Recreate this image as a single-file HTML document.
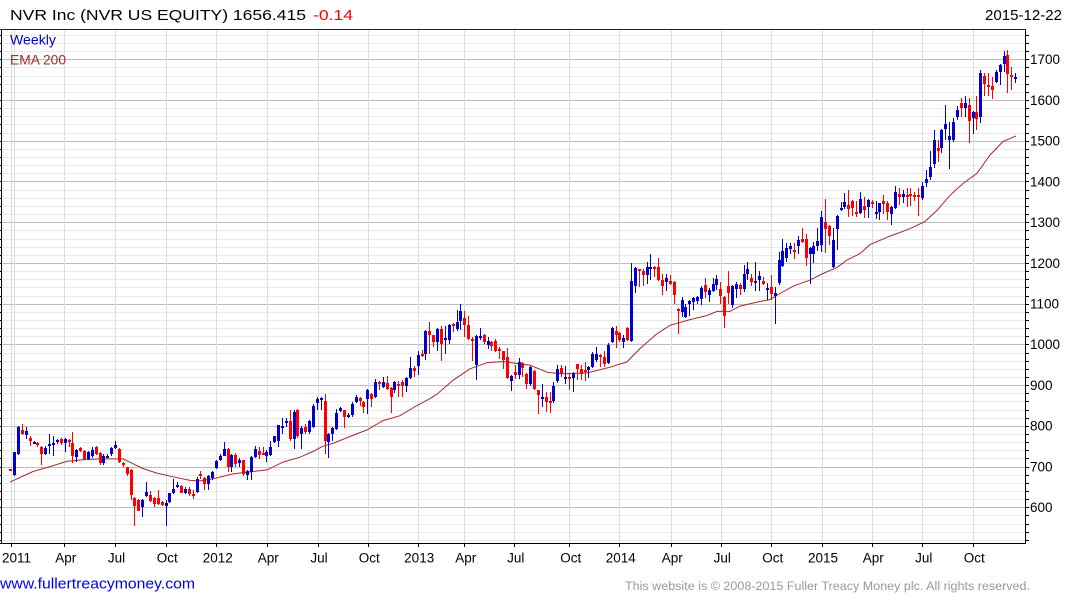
<!DOCTYPE html>
<html><head><meta charset="utf-8"><style>
html,body{margin:0;padding:0;background:#fff;width:1075px;height:600px;overflow:hidden}
svg{display:block}
text{font-family:"Liberation Sans",Arial,sans-serif}
</style></head><body>
<svg id="c" width="1075" height="600" viewBox="0 0 1075 600" xmlns="http://www.w3.org/2000/svg">
<rect width="1075" height="600" fill="#fff"/>
<g id="grid" shape-rendering="crispEdges"></g>
<g id="axes" shape-rendering="crispEdges"></g>
<polyline id="ema" fill="none" stroke="#a52a2a" stroke-width="1"/>
<g id="candles" shape-rendering="crispEdges"></g>
<text x="10" y="20" font-size="15" fill="#000" textLength="296" lengthAdjust="spacingAndGlyphs">NVR Inc (NVR US EQUITY) 1656.415</text>
<text x="313" y="20" font-size="15" fill="#ff0000" textLength="40" lengthAdjust="spacingAndGlyphs">-0.14</text>
<text x="985" y="20" font-size="15" fill="#000" textLength="77" lengthAdjust="spacingAndGlyphs">2015-12-22</text>
<text x="10" y="44.5" font-size="14" fill="#0000cc" textLength="46" lengthAdjust="spacingAndGlyphs">Weekly</text>
<text x="10" y="64.5" font-size="14" fill="#a52a2a" textLength="56" lengthAdjust="spacingAndGlyphs">EMA 200</text>
<g id="ylab" font-size="13.5" fill="#000"></g>
<g id="xlab" font-size="13.5" fill="#000"></g>
<text x="0" y="588.5" font-size="14.5" fill="#0000ee" textLength="195" lengthAdjust="spacingAndGlyphs">www.fullertreacymoney.com</text>
<text x="625" y="590" font-size="11.5" fill="#999" textLength="405" lengthAdjust="spacingAndGlyphs">This website is © 2008-2015 Fuller Treacy Money plc. All rights reserved.</text>
</svg>
<script>
(function(){
var NS="http://www.w3.org/2000/svg";
function el(t,a,p){var e=document.createElementNS(NS,t);for(var k in a)e.setAttribute(k,a[k]);p.appendChild(e);return e;}
function Y(p){return 59.3+(1700-p)*0.4073;}
function X(i){return 10.3+i*3.88;}
var grid=document.getElementById('grid'),axes=document.getElementById('axes'),cg=document.getElementById('candles');
var ylab=document.getElementById('ylab'),xlab=document.getElementById('xlab');
// horizontal grid
for(var p=520;p<=1760;p+=20){
  var y=Math.round(Y(p))+0.5;
  var major=(p%100===0);
  el('line',{x1:2,x2:1025,y1:y,y2:y,stroke:major?'#bdbdbd':'#e9e9e9','stroke-width':1},grid);
  el('line',{x1:1025,x2:1029,y1:y,y2:y,stroke:'#000','stroke-width':1},axes);
  el('line',{x1:0,x2:2,y1:y,y2:y,stroke:'#000','stroke-width':1},axes);
  if(major&&p>=600&&p<=1700){
    var t=el('text',{x:1030,y:(Y(p)+4.8).toFixed(1)},ylab);t.textContent=String(p);
  }
}
// vertical grid
var ticks=[10.7,64.3,115,165.7,216.3,266.7,317.5,367.7,417.7,464.3,514.3,569.3,619.3,670.7,720.7,771.3,821.5,871.7,922.3,972.7];
var labs=['2011','Apr','Jul','Oct','2012','Apr','Jul','Oct','2013','Apr','Jul','Oct','2014','Apr','Jul','Oct','2015','Apr','Jul','Oct'];
var extra=[14.3];
extra.concat(ticks).forEach(function(x){
  var xx=Math.round(x)+0.5;
  el('line',{x1:xx,x2:xx,y1:30,y2:543,stroke:'#dcdcdc','stroke-width':1},grid);
});
ticks.forEach(function(x,i){
  var xx=Math.round(x)+0.5;
  el('line',{x1:xx,x2:xx,y1:544,y2:547,stroke:'#000','stroke-width':1},axes);
  var t;
  if(i===0){t=el('text',{x:2,y:562.5},xlab);}
  else{t=el('text',{x:(x+1.5).toFixed(1),y:562.5,'text-anchor':'middle'},xlab);}
  t.textContent=labs[i];
});
// frame
el('line',{x1:0,x2:1026,y1:29.5,y2:29.5,stroke:'#222','stroke-width':1},axes);
el('line',{x1:0,x2:1026,y1:543.5,y2:543.5,stroke:'#000','stroke-width':1},axes);
el('line',{x1:1.5,x2:1.5,y1:30,y2:544,stroke:'#000','stroke-width':1},axes);
el('line',{x1:1025.5,x2:1025.5,y1:29.5,y2:544,stroke:'#000','stroke-width':1},axes);
// candles: color, bodyHi, bodyLo, high, low
var D="r,693,691,695,688;b,735,680,737,676;b,797,730,800,728;r,790,780,804,778;b,788,778,796,768;r,770,762,776,751;b,761,758,764,755;r,757,754,760,749;r,749,731,751,704;b,746,731,751,729;b,756,751,781,731;b,757,753,776,727;b,766,760,768,755;r,768,757,770,753;b,768,757,770,735;r,765,763,768,747;r,757,725,786,708;b,741,723,743,711;r,745,738,747,736;r,738,717,740,715;b,735,719,738,717;b,740,725,747,720;r,747,730,751,728;r,733,709,735,703;b,727,709,730,703;b,726,724,731,720;b,746,730,749,727;b,753,746,762,744;r,743,711,745,709;r,709,704,711,700;r,699,681,700,676;r,692,630,695,619;r,624,603,626,555;r,619,592,621,590;b,618,600,620,577;b,638,628,662,626;r,630,616,640,614;r,624,608,626,602;r,622,608,642,606;r,614,606,616,604;b,610,604,618,555;b,634,614,636,610;b,646,634,670,632;b,654,650,662,648;r,652,636,656,634;b,646,636,650,632;r,646,632,650,628;r,632,630,642,620;b,670,638,675,636;r,681,679,690,670;r,672,658,675,642;b,678,657,680,643;b,687,671,690,668;b,713,697,716,695;b,727,715,731,713;b,743,727,760,726;r,743,698,745,686;b,729,698,732,686;r,729,706,733,700;b,715,708,720,700;r,715,682,717,678;b,688,680,692,667;b,723,686,727,667;b,743,723,750,720;r,739,729,749,719;r,733,731,749,728;b,737,727,741,711;b,748,729,764,727;b,774,760,776,757;b,801,764,803,749;b,799,797,820,780;b,813,806,820,797;r,813,768,839,762;b,834,768,838,743;r,840,775,842,770;b,795,780,800,743;r,797,784,805,780;b,811,784,814,780;b,850,798,854,795;b,866,856,870,838;b,868,865,872,838;r,862,764,879,731;b,779,760,782,721;b,794,779,797,764;b,831,793,842,790;b,844,836,846,834;r,838,821,840,795;b,827,825,832,820;b,854,827,858,823;b,872,858,875,855;r,869,861,872,850;r,858,846,860,831;b,887,866,890,830;r,879,866,881,846;b,907,870,916,868;r,908,906,910,887;b,907,895,921,893;r,905,891,923,887;r,893,870,895,831;b,907,887,910,880;r,904,902,910,872;r,907,897,913,872;b,918,897,920,882;b,943,918,969,915;r,943,934,948,921;b,973,948,985,924;r,977,973,987,968;b,1034,977,1036,961;r,1034,1024,1056,977;r,1022,1006,1024,993;b,1038,1006,1040,985;r,1038,1002,1046,959;b,1016,1011,1046,977;b,1047,1012,1049,1002;r,1049,1044,1052,1030;b,1056,1038,1085,1034;b,1081,1057,1100,1036;r,1065,1047,1083,1018;r,1047,1014,1069,1012;r,1013,1010,1018,959;b,1020,949,1022,913;b,1021,1019,1041,1010;r,1024,1006,1026,1002;b,1008,998,1018,989;r,1006,995,1008,985;r,1008,984,1014,982;r,989,985,993,965;r,983,961,985,940;r,969,918,992,916;b,922,910,926,886;r,932,924,949,914;b,957,924,967,916;r,955,943,957,920;r,928,902,930,890;b,944,902,946,898;r,935,890,937,888;r,887,875,889,830;b,872,870,902,847;r,871,858,884,834;r,860,855,884,832;b,898,860,908,855;b,939,910,950,906;r,941,928,949,920;b,919,917,946,902;r,919,917,930,887;b,930,918,932,883;r,951,939,953,912;r,940,927,950,912;r,937,935,958,910;b,944,938,946,918;b,976,944,981,942;b,976,961,993,958;r,974,972,977,944;r,969,953,985,944;b,998,954,1003,952;b,1041,1006,1043,1004;r,1034,1022,1044,992;r,1028,1010,1030,1006;b,1016,1006,1022,991;r,1040,1010,1042,1008;b,1155,1008,1199,1006;b,1188,1143,1190,1127;r,1184,1182,1186,1140;r,1180,1171,1185,1144;b,1191,1171,1202,1149;b,1190,1188,1222,1159;r,1190,1188,1192,1165;r,1189,1158,1211,1155;r,1158,1143,1172,1121;b,1162,1154,1172,1131;r,1156,1149,1170,1147;r,1154,1121,1156,1099;r,1088,1085,1090,1026;b,1108,1080,1117,1067;b,1092,1067,1099,1066;b,1107,1099,1109,1069;b,1115,1104,1117,1084;b,1116,1107,1120,1099;b,1139,1112,1143,1096;r,1145,1129,1164,1115;b,1133,1121,1139,1104;b,1148,1131,1162,1129;b,1160,1145,1170,1133;r,1135,1119,1154,1100;r,1117,1069,1119,1041;r,1143,1125,1181,1099;b,1143,1096,1145,1090;b,1148,1135,1154,1115;r,1145,1137,1152,1121;b,1174,1137,1195,1129;b,1186,1174,1203,1158;r,1162,1154,1172,1143;b,1156,1151,1203,1131;b,1168,1158,1181,1131;r,1156,1148,1166,1146;b,1138,1136,1151,1108;r,1140,1123,1170,1110;b,1127,1118,1141,1051;b,1208,1150,1228,1145;b,1230,1192,1258,1190;b,1236,1213,1248,1203;b,1241,1234,1250,1223;r,1233,1231,1250,1209;b,1256,1241,1266,1222;r,1258,1252,1285,1250;r,1258,1213,1271,1192;b,1236,1222,1238,1149;b,1241,1222,1252,1200;b,1254,1241,1285,1230;b,1314,1244,1328,1228;r,1300,1283,1357,1225;r,1291,1266,1294,1244;b,1256,1189,1287,1187;b,1315,1283,1317,1233;b,1335,1330,1350,1328;b,1349,1337,1371,1333;r,1342,1333,1380,1314;r,1352,1336,1354,1315;r,1324,1322,1353,1314;b,1357,1322,1375,1320;r,1340,1330,1363,1311;b,1355,1338,1357,1311;r,1349,1347,1355,1335;b,1325,1319,1352,1309;b,1346,1325,1348,1305;r,1352,1345,1368,1320;r,1348,1325,1352,1305;b,1338,1321,1340,1292;b,1375,1335,1389,1333;r,1370,1362,1383,1342;b,1369,1362,1379,1346;r,1366,1364,1383,1338;r,1369,1367,1385,1339;r,1367,1362,1375,1352;r,1366,1362,1383,1316;b,1389,1360,1399,1354;b,1405,1397,1428,1387;b,1436,1410,1475,1403;b,1502,1442,1526,1432;r,1481,1475,1503,1448;b,1526,1481,1528,1469;b,1541,1528,1588,1502;b,1511,1502,1547,1430;b,1547,1502,1555,1498;b,1575,1559,1585,1551;r,1592,1580,1604,1559;b,1593,1581,1610,1559;r,1588,1549,1604,1495;b,1571,1557,1574,1516;r,1571,1553,1610,1526;b,1667,1559,1674,1544;r,1659,1639,1667,1610;r,1638,1636,1667,1610;r,1634,1625,1657,1602;b,1670,1645,1674,1641;b,1686,1670,1688,1637;b,1707,1689,1721,1670;r,1711,1663,1723,1618;r,1662,1657,1682,1625;b,1657,1655,1667,1643";
D.split(';').forEach(function(s,i){
  var a=s.split(','),col=a[0]==='b'?'#0000d0':'#ff0000';
  var hi=+a[1],lo=+a[2],h=+a[3],l=+a[4];
  var xc=Math.round(X(i));
  var yh=Math.round(Y(h)),yl=Math.round(Y(l));
  el('rect',{x:xc,y:yh,width:1,height:Math.max(1,yl-yh),fill:col},cg);
  var bt=Math.round(Y(hi)),bb=Math.round(Y(lo));
  el('rect',{x:xc-1,y:bt,width:3,height:Math.max(2,bb-bt),fill:col},cg);
});
// EMA
var E=[[10,662],[33,688],[50,700],[67,713],[83,717],[100,719],[123,719],[133,707],[143,695],[157,684],[173,675],[190,666],[200,665],[213,670],[233,682],[267,692],[283,711],[300,723],[313,737],[323,750],[333,757],[350,774],[367,790],[383,813],[400,825],[417,850],[430,867],[437,878],[453,912],[470,940],[487,955],[503,958],[530,949],[548,931],[563,928],[587,930],[597,936],[610,944],[627,957],[640,990],[657,1026],[670,1047],[690,1061],[707,1071],[717,1081],[730,1081],[740,1094],[757,1104],[770,1110],[780,1125],[793,1143],[810,1158],[823,1174],[837,1189],[847,1207],[860,1223],[870,1245],[890,1266],[910,1284],[925,1302],[937,1329],[950,1366],[963,1395],[977,1420],[990,1465],[1003,1498],[1016,1512]];
document.getElementById('ema').setAttribute('points',E.map(function(q){return q[0]+','+Y(q[1]).toFixed(1);}).join(' '));
})();
</script>
</body></html>
